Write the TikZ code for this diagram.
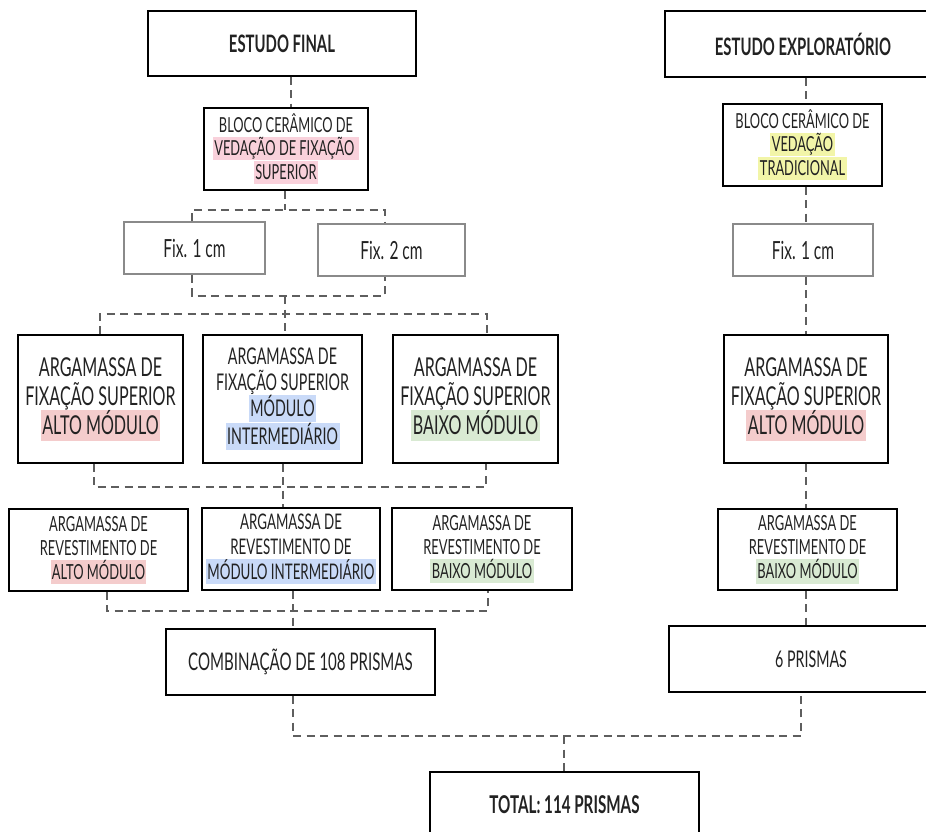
\documentclass[tikz,border=0pt]{standalone}
\usepackage{fontspec}
\setmainfont{Lato}[FakeStretch=0.62]
\usetikzlibrary{calc}

\definecolor{txt}{HTML}{222222}
\definecolor{dashgrey}{HTML}{5E5E5E}
\definecolor{fixgrey}{HTML}{8A8A8A}
\definecolor{hlred}{HTML}{F4CCCC}
\definecolor{hlpink}{HTML}{F9D1DB}
\definecolor{hlblue}{HTML}{C9DAF8}
\definecolor{hlgreen}{HTML}{D9EAD3}
\definecolor{hlyellow}{HTML}{F2F5A8}

% highlighted run of text, one per line
\newcommand{\hlt}[2]{{\setlength{\fboxsep}{0pt}\colorbox{#1}{\rule[-0.24em]{0pt}{1.12em}\hspace{0.07em}#2\hspace{0.07em}}}}

\tikzset{
  box/.style={draw=black, line width=1.1pt, inner sep=0pt, align=center, text=txt},
  fixbox/.style={draw=fixgrey, line width=1.1pt, inner sep=0pt, align=center, text=txt,
    font={\fontsize{25}{29}\selectfont}},
  title/.style={font={\bfseries\fontsize{24}{28}\selectfont}},
  big/.style={font={\fontsize{26}{29}\selectfont}},
  mid/.style={font={\fontsize{23}{26}\selectfont}},
  small/.style={font={\fontsize{20.8}{24}\selectfont}},
  blocotext/.style={font={\fontsize{20.7}{23}\selectfont}},
  conn/.style={draw=dashgrey, line width=1.6pt, dash pattern=on 8pt off 5.5pt},
}

\begin{document}
\begin{tikzpicture}[x=1pt, y=-1pt]
\fill[white] (0,0) rectangle (926,832);
\useasboundingbox (0,0) rectangle (926,832);

% ---- left branch: final study ----
\node[box, title, minimum width=268, minimum height=65] (fin) at (282,43.5) {ESTUDO FINAL};
\node[box, blocotext, minimum width=164, minimum height=82] (blocoL) at (286,149)
  {BLOCO CERÂMICO DE\\\hlt{hlpink}{VEDAÇÃO DE FIXAÇÃO }\\\hlt{hlpink}{SUPERIOR}};
\node[fixbox, minimum width=141, minimum height=52] (fix1L) at (194.5,248) {Fix. 1 cm};
\node[fixbox, minimum width=147, minimum height=52] (fix2L) at (391.5,250) {Fix. 2 cm};

\node[box, big, minimum width=165, minimum height=128] (A) at (100.5,399)
  {ARGAMASSA DE\\FIXAÇÃO SUPERIOR\\\hlt{hlred}{ALTO MÓDULO}};
\node[box, mid, minimum width=159, minimum height=128] (B) at (282.5,399)
  {ARGAMASSA DE\\FIXAÇÃO SUPERIOR\\\hlt{hlblue}{MÓDULO}\\\hlt{hlblue}{INTERMEDIÁRIO}};
\node[box, big, minimum width=165, minimum height=128] (C) at (475.5,399)
  {ARGAMASSA DE\\FIXAÇÃO SUPERIOR\\\hlt{hlgreen}{BAIXO MÓDULO}};

\node[box, small, minimum width=179, minimum height=82] (E) at (98.5,550)
  {ARGAMASSA DE\\REVESTIMENTO DE\\\hlt{hlred}{ALTO MÓDULO}};
\node[box, font={\fontsize{21.5}{25}\selectfont}, minimum width=178, minimum height=82] (F) at (291,549)
  {ARGAMASSA DE\\REVESTIMENTO DE\\\hlt{hlblue}{MÓDULO INTERMEDIÁRIO}};
\node[box, small, minimum width=180, minimum height=82] (G) at (482,549)
  {ARGAMASSA DE\\REVESTIMENTO DE\\\hlt{hlgreen}{BAIXO MÓDULO}};

\node[box, font={\fontsize{24.3}{28}\selectfont}, minimum width=269, minimum height=66] (comb) at (300.5,662)
  {COMBINAÇÃO DE 108 PRISMAS};

% ---- right branch: exploratory study ----
\node[box, title, minimum width=276, minimum height=66] (exp) at (803,44) {ESTUDO EXPLORATÓRIO};
\node[box, blocotext, minimum width=159, minimum height=82] (blocoR) at (802.5,145)
  {BLOCO CERÂMICO DE\\\hlt{hlyellow}{VEDAÇÃO}\\\hlt{hlyellow}{TRADICIONAL}};
\node[fixbox, minimum width=140, minimum height=52] (fixR) at (803,250) {Fix. 1 cm};
\node[box, big, minimum width=164, minimum height=128] (D) at (806,399)
  {ARGAMASSA DE\\FIXAÇÃO SUPERIOR\\\hlt{hlred}{ALTO MÓDULO}};
\node[box, small, minimum width=179, minimum height=81] (H) at (807.5,549.5)
  {ARGAMASSA DE\\REVESTIMENTO DE\\\hlt{hlgreen}{BAIXO MÓDULO}};
\node[box, font={\fontsize{23}{27}\selectfont}, minimum width=284, minimum height=66] (six) at (811,659) {6 PRISMAS};

% ---- total ----
\node[box, title, font={\bfseries\fontsize{24.5}{28}\selectfont}, minimum width=269, minimum height=66] (total) at (564.5,805) {TOTAL: 114 PRISMAS};

% ---- junction points of the dashed connectors ----
\coordinate (s1)  at (285,210);
\coordinate (s1a) at (192,210);
\coordinate (s1b) at (385,210);
\coordinate (m1)  at (285,296);
\coordinate (m1a) at (192,296);
\coordinate (m1b) at (385,296);
\coordinate (b1a) at (100,314);
\coordinate (b1c) at (487,314);
\coordinate (m2)  at (283,487);
\coordinate (m2a) at (94,487);
\coordinate (m2c) at (486,487);
\coordinate (m3)  at (293,611);
\coordinate (m3a) at (107,611);
\coordinate (m3c) at (488,611);
\coordinate (m4)  at (564,736);
\coordinate (m4a) at (293,736);
\coordinate (m4c) at (801,736);
\coordinate (fc)  at (291,0);
\coordinate (rc)  at (806,0);

% ---- dashed connectors, left branch ----
\draw[conn] (fc |- fin.south) -- (fc |- blocoL.north);
\draw[conn] (s1 |- blocoL.south) -- (s1);
\draw[conn] (s1a |- fix1L.north) -- (s1a) -- (s1b) -- (s1b |- fix2L.north);
\draw[conn] (m1a |- fix1L.south) -- (m1a) -- (m1b) -- (m1b |- fix2L.south);
\draw[conn] (m1) -- (m1 |- B.north);
\draw[conn] (b1a |- A.north) -- (b1a) -- (b1c) -- (b1c |- C.north);
\draw[conn] (m2a |- A.south) -- (m2a) -- (m2c) -- (m2c |- C.south);
\draw[conn] (m2 |- B.south) -- (m2 |- F.north);
\draw[conn] (m3a |- E.south) -- (m3a) -- (m3c) -- (m3c |- G.south);
\draw[conn] (m3 |- F.south) -- (m3 |- comb.north);

% ---- dashed connectors, right branch ----
\draw[conn] (rc |- exp.south) -- (rc |- blocoR.north);
\draw[conn] (rc |- blocoR.south) -- (rc |- fixR.north);
\draw[conn] (rc |- fixR.south) -- (rc |- D.north);
\draw[conn] (rc |- D.south) -- (rc |- H.north);
\draw[conn] (rc |- H.south) -- (rc |- six.north);

% ---- joining both studies into the total ----
\draw[conn] (m4a |- comb.south) -- (m4a) -- (m4c) -- (m4c |- six.south);
\draw[conn] (m4) -- (m4 |- total.north);
\end{tikzpicture}
\end{document}
